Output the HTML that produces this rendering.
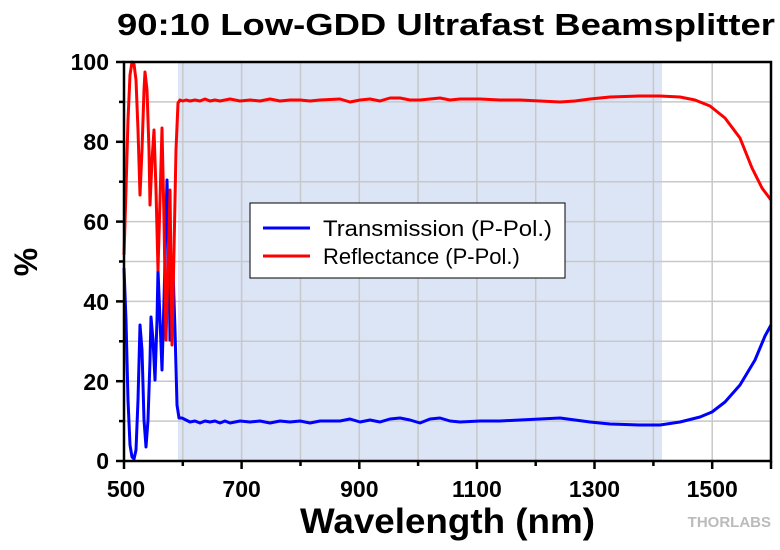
<!DOCTYPE html>
<html><head><style>
body{margin:0;background:#fff;width:780px;height:545px;overflow:hidden}
svg{font-family:"Liberation Sans",Arial,sans-serif}
</style></head><body>
<svg width="780" height="545" viewBox="0 0 780 545" xmlns="http://www.w3.org/2000/svg">
<text x="117" y="35" font-size="31" font-weight="bold" textLength="658" lengthAdjust="spacingAndGlyphs">90:10 Low-GDD Ultrafast Beamsplitter</text>
<rect x="178" y="62" width="484" height="399" fill="#dce5f6"/>
<g stroke="#c8c8c8" stroke-width="1.5">
<line x1="124" y1="101.9" x2="771" y2="101.9"/><line x1="124" y1="141.8" x2="771" y2="141.8"/>
<line x1="124" y1="181.7" x2="771" y2="181.7"/><line x1="124" y1="221.6" x2="771" y2="221.6"/>
<line x1="124" y1="261.5" x2="771" y2="261.5"/><line x1="124" y1="301.4" x2="771" y2="301.4"/>
<line x1="124" y1="341.3" x2="771" y2="341.3"/><line x1="124" y1="381.2" x2="771" y2="381.2"/>
<line x1="124" y1="421.1" x2="771" y2="421.1"/>
<line x1="182.8" y1="62" x2="182.8" y2="461"/><line x1="241.6" y1="62" x2="241.6" y2="461"/>
<line x1="300.5" y1="62" x2="300.5" y2="461"/><line x1="359.3" y1="62" x2="359.3" y2="461"/>
<line x1="418.1" y1="62" x2="418.1" y2="461"/><line x1="476.9" y1="62" x2="476.9" y2="461"/>
<line x1="535.7" y1="62" x2="535.7" y2="461"/><line x1="594.5" y1="62" x2="594.5" y2="461"/>
<line x1="653.4" y1="62" x2="653.4" y2="461"/><line x1="712.2" y1="62" x2="712.2" y2="461"/>
</g>
<polyline fill="none" stroke="#0000ff" stroke-width="3" stroke-linejoin="round" points="124,268 126,320 128,400 130,445 132,457 134,459 136,450 138,400 140,325 142,350 144,420 146,447 148,420 150,360 151,317 153,340 155,380 157,320 158,270 160,320 162,370 164,300 166,220 167,180 169,260 170,340 172,300 173,270 175,330 177,405 179,418 182,418 186,420 190,422 195,421 200,423 205,421 210,422 215,421 220,423 225,421 230,423 240,421 250,422 260,421 270,423 280,421 290,422 300,421 310,423 320,421 340,421 350,419 360,422 370,420 380,422 390,419 400,418 410,420 420,423 430,419 440,418 450,421 460,422 480,421 500,421 520,420 540,419 560,418 575,420 590,422 610,424 640,425 660,425 680,422 700,417 712,412 725,402 740,385 755,360 765,336 771,325"/>
<polyline fill="none" stroke="#ff0000" stroke-width="3" stroke-linejoin="round" points="124,255 126,190 128,120 130,75 132,62 134,64 136,80 138,130 140,195 142,150 144,90 145,72 147,90 149,150 150,205 152,160 154,130 156,190 158,270 160,200 162,128 164,220 166,340 168,270 170,190 172,345 174,250 176,150 178,103 180,100 183,101 186,100 190,101 195,100 200,101 205,99 210,101 215,100 220,101 225,100 230,99 240,101 250,100 260,101 270,99 280,101 290,100 300,100 310,101 320,100 340,99 350,102 360,100 370,99 380,101 390,98 400,98 410,100 420,100 430,99 440,98 450,100 460,99 480,99 500,100 520,100 540,101 560,102 575,101 590,99 610,97 640,96 660,96 680,97 695,100 710,106 725,118 740,138 752,168 762,188 771,200"/>
<rect x="124" y="62" width="647" height="399" stroke="#000" stroke-width="2.5" fill="none"/>
<g stroke="#000" stroke-width="2.5">
<line x1="116" y1="62" x2="124" y2="62"/><line x1="116" y1="141.8" x2="124" y2="141.8"/>
<line x1="116" y1="221.6" x2="124" y2="221.6"/><line x1="116" y1="301.4" x2="124" y2="301.4"/>
<line x1="116" y1="381.2" x2="124" y2="381.2"/><line x1="116" y1="461" x2="124" y2="461"/>
<line x1="119" y1="101.9" x2="124" y2="101.9"/><line x1="119" y1="181.7" x2="124" y2="181.7"/>
<line x1="119" y1="261.5" x2="124" y2="261.5"/><line x1="119" y1="341.3" x2="124" y2="341.3"/>
<line x1="119" y1="421.1" x2="124" y2="421.1"/>
<line x1="124" y1="461" x2="124" y2="469"/><line x1="241.6" y1="461" x2="241.6" y2="469"/>
<line x1="359.3" y1="461" x2="359.3" y2="469"/><line x1="476.9" y1="461" x2="476.9" y2="469"/>
<line x1="594.5" y1="461" x2="594.5" y2="469"/><line x1="712.2" y1="461" x2="712.2" y2="469"/>
<line x1="771" y1="461" x2="771" y2="469"/>
<line x1="182.8" y1="461" x2="182.8" y2="466"/><line x1="300.5" y1="461" x2="300.5" y2="466"/>
<line x1="418.1" y1="461" x2="418.1" y2="466"/><line x1="535.7" y1="461" x2="535.7" y2="466"/>
<line x1="653.4" y1="461" x2="653.4" y2="466"/>
</g>
<g font-size="23" font-weight="bold" text-anchor="end">
<text x="109" y="70">100</text><text x="109" y="150">80</text><text x="109" y="230">60</text>
<text x="109" y="310">40</text><text x="109" y="390">20</text><text x="109" y="469">0</text>
</g>
<g font-size="23" font-weight="bold" text-anchor="middle">
<text x="126" y="497">500</text><text x="241.6" y="497">700</text><text x="359.3" y="497">900</text>
<text x="476.9" y="497">1100</text><text x="594.5" y="497">1300</text><text x="712.2" y="497">1500</text>
</g>
<text x="300" y="533" font-size="35" font-weight="bold" textLength="295" lengthAdjust="spacingAndGlyphs">Wavelength (nm)</text>
<text transform="translate(37,262) rotate(-90)" text-anchor="middle" font-size="32" font-weight="bold">%</text>
<rect x="250" y="203" width="315" height="75" fill="#fff" stroke="#000" stroke-width="1"/>
<line x1="263" y1="228" x2="310" y2="228" stroke="#0000ff" stroke-width="3"/>
<line x1="263" y1="256" x2="310" y2="256" stroke="#ff0000" stroke-width="3"/>
<text x="323" y="236" font-size="22" textLength="229" lengthAdjust="spacingAndGlyphs">Transmission (P-Pol.)</text>
<text x="323" y="264" font-size="22">Reflectance (P-Pol.)</text>
<text x="771" y="527" text-anchor="end" font-size="15" font-weight="bold" fill="#bbb">THORLABS</text>
</svg>
</body></html>
